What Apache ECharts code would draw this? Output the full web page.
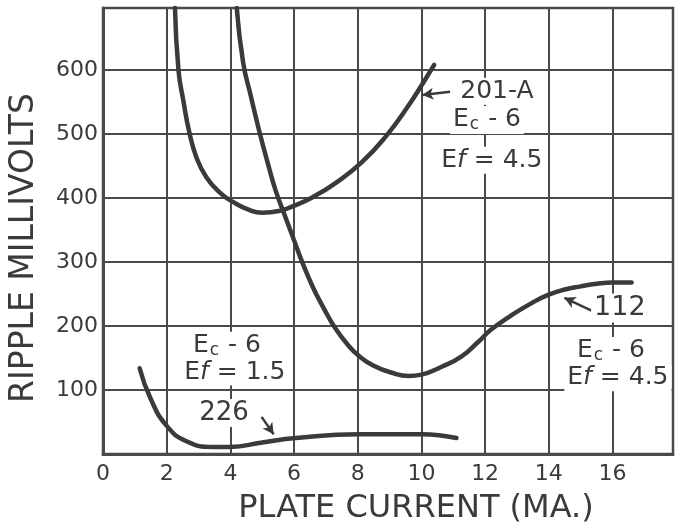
<!DOCTYPE html>
<html>
<head>
<meta charset="utf-8">
<script src="https://cdn.jsdelivr.net/npm/echarts@6/dist/echarts.min.js"></script>
<style>
html,body{margin:0;padding:0;background:#fff;}
#chart{width:676px;height:531px;}
</style>
</head>
<body>
<div id="chart"></div>
<script>
// Plate current (mA) vs ripple (millivolts)
const tube201A = [[2.26,697],[2.37,600],[2.52,553],[2.71,503],[2.93,464],[3.24,433],[3.68,408],[4.08,394],[4.61,381],[5.0,377],[5.55,380],[5.95,387],[6.57,401],[7.29,423],[8.13,456],[8.91,498],[9.6,545],[10.09,583],[10.4,608]];
const tube112 = [[4.2,697],[4.4,612],[4.64,560],[4.9,506],[5.2,450],[5.42,412],[5.73,370],[6.0,334],[6.2,307],[6.57,263],[6.95,226],[7.29,197],[7.7,170],[8.04,153],[8.5,138],[9.07,127],[9.6,122],[10.0,124],[10.62,136],[11.25,152],[11.78,175],[12.18,194],[12.8,216],[13.5,237],[14,249],[14.5,257],[15,262],[15.5,266],[16,268],[16.6,268]];
const tube226 = [[1.15,134],[1.5,86],[2.0,44],[2.62,20],[3.46,11],[3.99,11],[5.0,18],[6.05,25],[8.04,31],[10.0,31],[11.1,25]];
const xLabel = 'PLATE CURRENT (MA.)';
const yLabel = 'RIPPLE MILLIVOLTS';
const labels201A = ['201-A', 'c - 6', '4.5'];
const labels112 = ['112', 'c - 6', '4.5'];
const labels226 = ['226', 'c - 6', '1.5'];

const INK = '#3a3a3a';
const GRIDINK = '#4a4a4a';
const FONT = 'DejaVu Sans';

const rich = {
  e: {fontFamily: FONT, fontSize: 25, color: INK},
  s: {fontFamily: FONT, fontSize: 17, color: INK, padding: [9, 1, 0, 1]},
  f: {fontFamily: FONT, fontSize: 25, color: INK, fontStyle: 'italic'},
  n: {fontFamily: FONT, fontSize: 25, color: INK}
};
function ecText(t) { return '{e|E}{s|' + t.slice(0,1) + '}{e|' + t.slice(1) + '}'; }
function efText(t) { return '{e|E}{f|f}{n| = ' + t + '}'; }
function note(coord, formatter, size) {
  return {
    coord: coord, symbol: 'rect', symbolSize: 1, itemStyle: {color: 'rgba(0,0,0,0)'},
    label: {show: true, position: 'inside', formatter: formatter, rich: rich,
      fontFamily: FONT, fontSize: size || 25, color: INK,
      backgroundColor: '#fff', padding: [1, 3]}
  };
}
function arrow(from, to, curv) {
  return [{coord: from, lineStyle: {curveness: curv || 0}}, {coord: to}];
}
function lineSeries(name, data, notes, arrows) {
  return {
    name: name, type: 'line', data: data, smooth: 0.5, showSymbol: false,
    clip: true, z: 3,
    lineStyle: {color: INK, width: 4.5, cap: 'round', join: 'round'},
    markPoint: {silent: true, z: 5, data: notes},
    markLine: {silent: true, symbol: ['none', 'arrow'], symbolSize: [9, 11],
      label: {show: false}, lineStyle: {color: INK, width: 2.5, type: 'solid'},
      data: arrows}
  };
}

const chart = echarts.init(document.getElementById('chart'), null, {renderer: 'canvas'});
chart.setOption({
  animation: false,
  backgroundColor: '#fff',
  grid: {left: 99, right: 3, top: 8, bottom: 77, show: true,
    borderColor: GRIDINK, borderWidth: 2.5, backgroundColor: '#fff'},
  xAxis: {
    type: 'value', min: 0, max: 17.9, interval: 2,
    name: xLabel, nameLocation: 'middle', nameGap: 39,
    nameTextStyle: {fontFamily: FONT, fontSize: 32, color: INK, padding: [0, 0, 0, 56]},
    axisLine: {show: true, lineStyle: {color: GRIDINK, width: 3}},
    axisTick: {show: false},
    axisLabel: {fontFamily: FONT, fontSize: 22, color: INK, margin: 9, showMaxLabel: false},
    splitLine: {show: true, lineStyle: {color: GRIDINK, width: 2}}
  },
  yAxis: {
    type: 'value', min: 0, max: 697, interval: 100,
    name: yLabel, nameLocation: 'middle', nameGap: 62, nameRotate: 90,
    nameTextStyle: {fontFamily: FONT, fontSize: 33, color: INK, padding: [0, 34, 0, 0]},
    axisLine: {show: true, lineStyle: {color: GRIDINK, width: 3}},
    axisTick: {show: false},
    axisLabel: {fontFamily: FONT, fontSize: 22, color: INK, margin: 5, showMinLabel: false, showMaxLabel: false},
    splitLine: {show: true, lineStyle: {color: GRIDINK, width: 2}}
  },
  series: [
    lineSeries('201-A', tube201A,
      [note([12.37, 567], labels201A[0], 25), note([12.06, 522], ecText(labels201A[1])), note([12.21, 459], efText(labels201A[2]))],
      [arrow([10.9, 566], [10.03, 561], 0)]),
    lineSeries('112', tube112,
      [note([16.23, 228], labels112[0], 27), note([15.95, 161], ecText(labels112[1])), note([16.17, 119], efText(labels112[2]))],
      [arrow([15.39, 223], [14.49, 244], -0.35)]),
    lineSeries('226', tube226,
      [note([3.89, 169], ecText(labels226[1])), note([4.14, 128], efText(labels226[2])), note([3.8, 64], labels226[0], 26)],
      [arrow([4.98, 58], [5.36, 31], 0.5)])
  ]
});
</script>
</body>
</html>
